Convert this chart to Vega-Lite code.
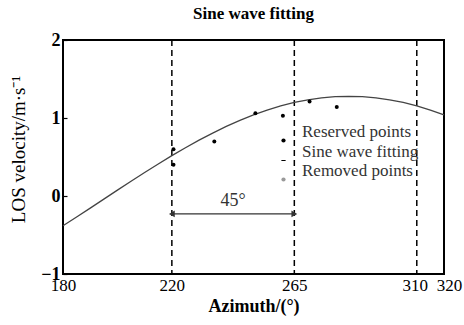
{
  "$schema": "https://vega.github.io/schema/vega-lite/v6.json",
  "width": 381,
  "height": 234,
  "autosize": {"type": "none"},
  "padding": {"left": 63, "top": 40, "right": 20, "bottom": 51},
  "background": "white",
  "config": {
    "view": {"stroke": "black", "strokeWidth": 2},
    "font": "Liberation Serif"
  },
  "title": {"text": "Sine  wave fitting", "font": "Liberation Serif", "fontSize": 17, "fontWeight": "bold", "color": "black", "offset": 8},
  "datasets": {
    "curve": [
      {"az": 180, "v": -0.381}, {"az": 185, "v": -0.269}, {"az": 190, "v": -0.155}, {"az": 195, "v": -0.040},
      {"az": 200, "v": 0.075}, {"az": 205, "v": 0.189}, {"az": 210, "v": 0.301}, {"az": 215, "v": 0.411},
      {"az": 220, "v": 0.517}, {"az": 225, "v": 0.619}, {"az": 230, "v": 0.716}, {"az": 235, "v": 0.807},
      {"az": 240, "v": 0.892}, {"az": 245, "v": 0.970}, {"az": 250, "v": 1.040}, {"az": 255, "v": 1.101},
      {"az": 260, "v": 1.155}, {"az": 265, "v": 1.199}, {"az": 270, "v": 1.233}, {"az": 275, "v": 1.258},
      {"az": 280, "v": 1.273}, {"az": 285, "v": 1.278}, {"az": 290, "v": 1.273}, {"az": 295, "v": 1.258},
      {"az": 300, "v": 1.233}, {"az": 305, "v": 1.199}, {"az": 310, "v": 1.155}, {"az": 315, "v": 1.101},
      {"az": 320, "v": 1.040}
    ],
    "points": [
      {"az": 220.6, "v": 0.60, "series": "Reserved points"},
      {"az": 220.6, "v": 0.40, "series": "Reserved points"},
      {"az": 235.6, "v": 0.70, "series": "Reserved points"},
      {"az": 250.7, "v": 1.06, "series": "Reserved points"},
      {"az": 260.8, "v": 1.03, "series": "Reserved points"},
      {"az": 270.6, "v": 1.21, "series": "Reserved points"},
      {"az": 280.6, "v": 1.14, "series": "Reserved points"}
    ],
    "rules": [{"az": 220}, {"az": 265}, {"az": 310}],
    "span": [{"a": 220, "b": 265, "v": -0.23, "label": "45°"}],
    "arrows": [{"az": 220, "v": -0.23, "dir": "left"}, {"az": 265, "v": -0.23, "dir": "right"}]
  },
  "layer": [
    {
      "data": {"name": "rules"},
      "mark": {"type": "rule", "color": "black", "strokeWidth": 1.5, "strokeDash": [6, 4]},
      "encoding": {
        "x": {"field": "az", "type": "quantitative", "scale": {"domain": [180, 320], "nice": false, "zero": false},
          "axis": {"values": [180, 220, 265, 310, 320], "format": "d", "title": "Azimuth/(°)", "titleFont": "Liberation Serif", "titleFontSize": 18, "titleFontWeight": "bold", "titleColor": "black", "titlePadding": 4,
            "labelFont": "Liberation Serif", "labelFontSize": 17, "labelColor": "black", "labelFontWeight": "normal", "labelPadding": 3,
            "labelOffset": {"condition": [{"test": "datum.value == 320", "value": 5}, {"test": "datum.value == 310", "value": -2}], "value": 0},
            "tickSize": 0, "domain": false, "grid": false, "labelFlush": false, "labelOverlap": false}}
      }
    },
    {
      "data": {"name": "curve"},
      "mark": {"type": "line", "color": "#444", "strokeWidth": 1.3},
      "encoding": {
        "x": {"field": "az", "type": "quantitative"},
        "y": {"field": "v", "type": "quantitative", "scale": {"domain": [-1, 2], "nice": false, "zero": false},
          "axis": {"values": [-1, 0, 1, 2], "format": "d", "title": "LOS velocity/m·s⁻¹", "titleFont": "Liberation Serif", "titleFontSize": 19, "titleFontWeight": "normal", "titleColor": "black", "titlePadding": 12, "titleY": 109,
            "labelFont": "Liberation Serif", "labelFontSize": 18, "labelColor": "black", "labelFontWeight": "bold", "labelPadding": 7, "tickSize": -4, "tickColor": "black", "tickWidth": 1.2, "domain": false, "grid": false, "labelFlush": false}}
      }
    },
    {
      "data": {"name": "points"},
      "mark": {"type": "point", "filled": true, "size": 16, "opacity": 1},
      "encoding": {
        "x": {"field": "az", "type": "quantitative"},
        "y": {"field": "v", "type": "quantitative"},
        "shape": {"field": "series", "type": "nominal",
          "scale": {"domain": ["Reserved points", "Sine wave fitting", "Removed points"], "range": ["circle", "M-1,-0.25H1V0.25H-1Z", "circle"]},
          "legend": {"orient": "none", "legendX": 212, "legendY": 92, "title": null, "labelFont": "Liberation Serif", "labelFontSize": 17, "labelColor": "#333", "labelBaseline": "bottom", "symbolSize": 18, "labelOffset": 10, "rowPadding": -1,
            "encode": {"symbols": {"update": {
              "stroke": {"value": "transparent"},
              "fill": {"signal": "datum.value === 'Removed points' ? '#999' : 'black'"},
              "opacity": {"value": 1},
              "size": {"signal": "datum.value === 'Removed points' ? 6 : (datum.value === 'Sine wave fitting' ? 40 : 16)"}
            }}}}},
        "color": {"field": "series", "type": "nominal",
          "scale": {"domain": ["Reserved points", "Sine wave fitting", "Removed points"], "range": ["black", "black", "#999"]}}
      }
    },
    {
      "data": {"name": "span"},
      "mark": {"type": "rule", "color": "#333", "strokeWidth": 1.3},
      "encoding": {
        "x": {"field": "a", "type": "quantitative"},
        "x2": {"field": "b"},
        "y": {"field": "v", "type": "quantitative"}
      }
    },
    {
      "data": {"name": "arrows"},
      "mark": {"type": "point", "filled": true, "size": 45, "color": "#333", "opacity": 1},
      "encoding": {
        "x": {"field": "az", "type": "quantitative"},
        "y": {"field": "v", "type": "quantitative"},
        "shape": {"field": "dir", "type": "nominal", "scale": {"domain": ["left", "right"], "range": ["triangle-left", "triangle-right"]}, "legend": null}
      }
    },
    {
      "data": {"name": "span"},
      "transform": [{"calculate": "(datum.a + datum.b) / 2", "as": "mid"}],
      "mark": {"type": "text", "font": "Liberation Serif", "fontSize": 18, "color": "#333", "baseline": "alphabetic", "dy": -8},
      "encoding": {
        "x": {"field": "mid", "type": "quantitative"},
        "y": {"field": "v", "type": "quantitative"},
        "text": {"field": "label"}
      }
    }
  ],
  "resolve": {"scale": {"shape": "independent", "color": "independent"}}
}
